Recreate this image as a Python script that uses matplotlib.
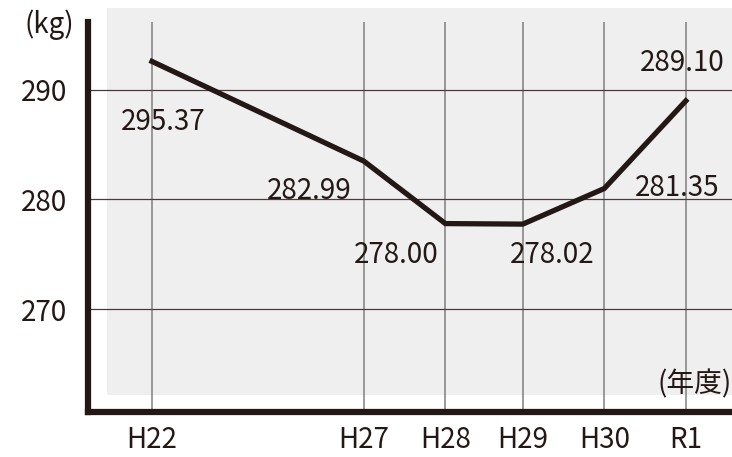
import matplotlib.pyplot as plt
from matplotlib.patches import Rectangle

plt.rcParams['font.family'] = ['Noto Sans CJK JP', 'DejaVu Sans']

# Fiscal years (irregular spacing on the axis, as in the original)
years = ["H22", "H27", "H28", "H29", "H30", "R1"]
year_pos = [0, 2.6, 3.6, 4.55, 5.55, 6.55]

# Plotted heights and the printed labels
values = [292.6, 283.5, 277.8, 277.75, 281.0, 289.0]
labels = ["295.37", "282.99", "278.00", "278.02", "281.35", "289.10"]

# label offsets in pixels from each point
label_offsets = [(11, -61), (-55, -30), (-49, -31), (29, -31), (73, 1), (-4, 38)]

dark = "#231815"
fs = 20

fig = plt.figure(figsize=(7.32, 4.57), dpi=100)
W, H = 732, 457

# gray panel behind the plot
fig.add_artist(Rectangle((107 / W, (H - 395) / H), (W - 107) / W, (395 - 8) / H,
                         transform=fig.transFigure, facecolor="#efefef",
                         edgecolor="none", zorder=-1))

ax = fig.add_axes([88 / W, (H - 412) / H, (W - 88) / W, (412 - 22) / H])
ax.patch.set_alpha(0)

ax.plot(year_pos, values, color=dark, lw=3.8, solid_joinstyle="miter", zorder=3)

for x, v, lab, (dx, dy) in zip(year_pos, values, labels, label_offsets):
    ax.annotate(lab, (x, v), xytext=(dx, dy), textcoords="offset pixels",
                ha="center", va="center", fontsize=fs, color=dark, zorder=4)

ax.set_xlim(-0.785, 7.117)
ax.set_ylim(260.6, 296.2)
ax.set_xticks(year_pos, years)
ax.set_yticks([270, 280, 290])

for s in ["top", "right"]:
    ax.spines[s].set_visible(False)
for s in ["left", "bottom"]:
    ax.spines[s].set_color(dark)
    ax.spines[s].set_linewidth(4.5)

ax.tick_params(length=0, labelsize=fs, colors=dark)
ax.tick_params(axis="y", pad=15)
ax.tick_params(axis="x", pad=9)

ax.xaxis.grid(True, color="#808080", lw=1.1)
ax.yaxis.grid(True, color="#4a3a3a", lw=0.9)
ax.set_axisbelow(True)

fig.text(49 / W, 1 - 25 / H, "(kg)", ha="center", va="center", fontsize=fs, color=dark)
fig.text(1.0, 1 - 384 / H, "(年度)", ha="right", va="center", fontsize=fs, color=dark)

fig.savefig("out.png", dpi=100)
